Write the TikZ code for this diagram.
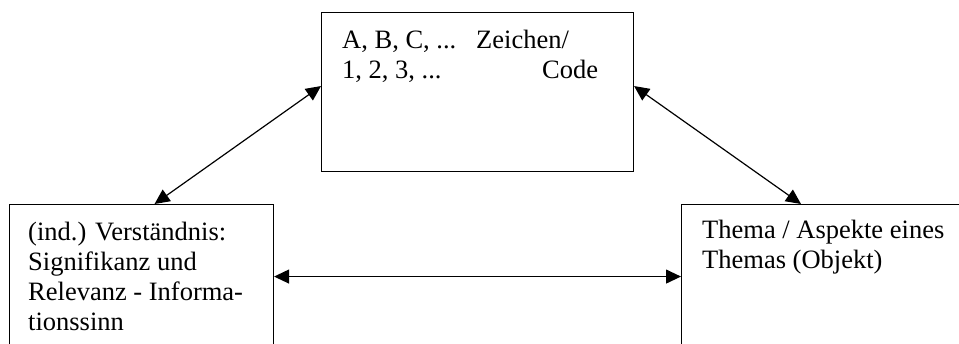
\documentclass[tikz,border=0pt]{standalone}
\usepackage{fontspec}
\setmainfont{Liberation Serif}
\usetikzlibrary{arrows.meta}

\tikzset{
    box/.style={draw, line width=1.1pt, inner sep=0pt, anchor=north west},
    txt/.style={anchor=base west, align=left, inner sep=0pt,
        font=\fontsize{26.5}{30}\selectfont},
    link/.style={line width=1.2pt, {Triangle[length=15pt,width=14pt]}-{Triangle[length=15pt,width=14pt]}}
}

\begin{document}
\begin{tikzpicture}[x=1pt,y=-1pt]
    \clip (0,0) rectangle (959,343);

    % Boxes
    \node [box, minimum width=312pt, minimum height=159pt] (code) at (321,12) {};
    \node [box, minimum width=264pt, minimum height=144pt] (sense) at (9,204) {};
    \node [box, minimum width=300pt, minimum height=144pt] (topic) at (681,204) {};

    % Texts (base = last line)
    \node [txt] (codetext) at ([xshift=21pt,yshift=-66pt]code.north west)
        {\makebox[134pt][l]{A, B, C, ...}Zeichen/\\
         \makebox[200pt][l]{1, 2, 3, ...}Code};
    \node [txt] (sensetext) at ([xshift=19pt,yshift=-126pt]sense.north west)
        {(ind.) Verständnis:\\Signifikanz und\\Relevanz - Informa-\\tionssinn};
    \node [txt] (topictext) at ([xshift=21pt,yshift=-64pt]topic.north west)
        {Thema / Aspekte eines\\Themas (Objekt)};

    % Arrows
    \draw [link] ([yshift=6pt]code.west) -- ([xshift=13pt]sense.north);
    \draw [link] ([yshift=6pt]code.east) -- ([xshift=120pt]topic.north west);
    \draw [link] (sense.east) -- (topic.west);
\end{tikzpicture}
\end{document}
